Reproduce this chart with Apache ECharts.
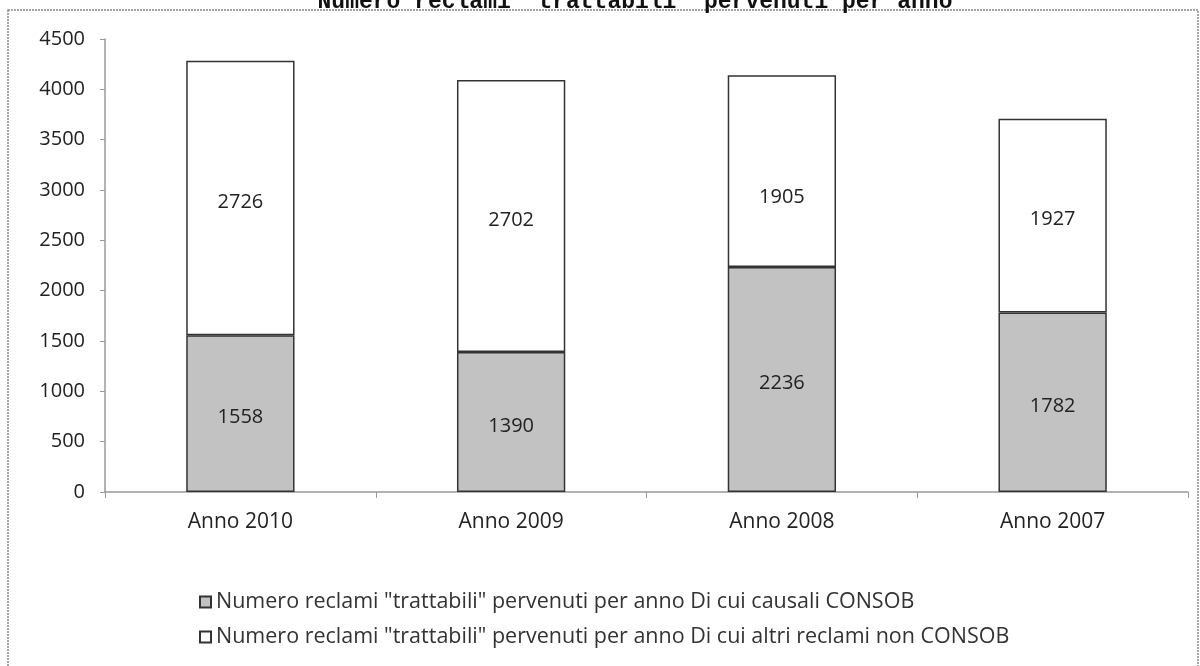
<!DOCTYPE html>
<html>
<head>
<meta charset="utf-8">
<script src="https://cdn.jsdelivr.net/npm/echarts@6/dist/echarts.min.js"></script>
<style>html,body{margin:0;padding:0;background:#fff}#c{width:1200px;height:666px}</style>
</head>
<body>
<div id="c"></div>
<script>
const titleText = 'Numero reclami "trattabili" pervenuti per anno';
const categories = ['Anno 2010', 'Anno 2009', 'Anno 2008', 'Anno 2007'];
const seriesNames = [
  'Numero reclami "trattabili" pervenuti per anno Di cui causali CONSOB',
  'Numero reclami "trattabili" pervenuti per anno Di cui altri reclami non CONSOB'
];
const consob = [1558, 1390, 2236, 1782];
const nonConsob = [2726, 2702, 1905, 1927];
const yTicks = { min: 0, max: 4500, interval: 500 };

const FONT = 'Open Sans';
const chart = echarts.init(document.getElementById('c'));
const labelStyle = { show: true, position: 'inside', fontSize: 20, color: '#222', fontFamily: FONT, offset: [0, 4] };
chart.setOption({
  backgroundColor: '#fff',
  animation: false,
  textStyle: { fontFamily: FONT },
  graphic: [
    { type: 'rect', shape: { x: 8, y: 10, width: 1190, height: 680 }, style: { fill: 'none', stroke: '#888', lineWidth: 1.5, lineDash: [2, 1] }, silent: true, z: -1 },
    { type: 'text', x: 635, y: 2, style: { text: titleText, font: 'bold 23px "Liberation Mono"', fill: '#111', align: 'center', verticalAlign: 'middle' } }
  ],
  grid: { left: 105, right: 12, top: 39, bottom: 174 },
  legend: {
    orient: 'vertical', left: 194, top: 586, itemGap: 13,
    itemWidth: 11, itemHeight: 11, icon: 'rect',
    textStyle: { fontFamily: FONT, fontSize: 21.5, color: '#333' },
    data: seriesNames
  },
  xAxis: {
    type: 'category', data: categories,
    axisLine: { lineStyle: { color: '#999', width: 1.5 } },
    axisTick: { show: true, length: 6, lineStyle: { color: '#999' } },
    axisLabel: { fontSize: 21, color: '#222', margin: 20, fontFamily: FONT }
  },
  yAxis: {
    type: 'value', min: yTicks.min, max: yTicks.max, interval: yTicks.interval,
    axisLine: { show: true, lineStyle: { color: '#999', width: 1.5 } },
    axisTick: { show: true, length: 5, lineStyle: { color: '#999' } },
    splitLine: { show: false },
    axisLabel: { fontSize: 20, color: '#222', margin: 20, fontFamily: FONT, formatter: v => String(v) }
  },
  series: [
    {
      name: seriesNames[0], type: 'bar', stack: 'a', data: consob, barWidth: '40%',
      itemStyle: { color: '#c2c2c2', borderColor: '#333', borderWidth: 1.5 },
      label: labelStyle
    },
    {
      name: seriesNames[1], type: 'bar', stack: 'a',
      data: nonConsob.map((v, i) => i === 2 ? { value: v, label: { offset: [0, 26] } } : v),
      barWidth: '40%',
      itemStyle: { color: '#ffffff', borderColor: '#333', borderWidth: 1.5 },
      label: labelStyle
    }
  ]
});
</script>
</body>
</html>
